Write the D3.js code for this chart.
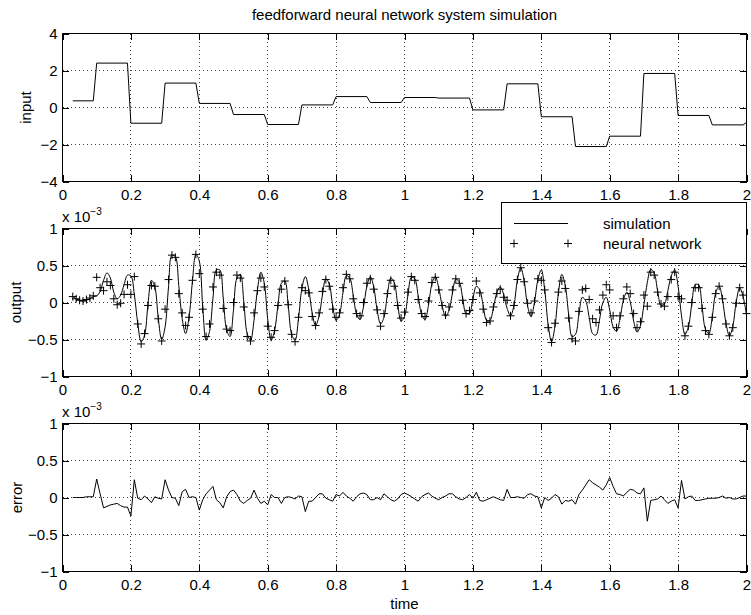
<!DOCTYPE html>
<html>
<head>
<meta charset="utf-8">
<title>feedforward neural network system simulation</title>
<script src="https://d3js.org/d3.v7.min.js"></script>
<style>
  body { margin: 0; background: #fff; }
  svg text { font-family: "Liberation Sans", Arial, Helvetica, sans-serif; font-size: 15px; fill: #000; }
  .grid { stroke: #444; stroke-width: 1; stroke-dasharray: 1,3; shape-rendering: crispEdges; }
  .tick line { shape-rendering: crispEdges; }
</style>
</head>
<body>
<div id="chart"></div>
<script>
// sampling of the simulation runs (seconds)
var t0 = 0.03, dt = 0.01;

// output of the simulated system (x 1e-3), one value per sample from 0.03 to 2.00
var simulation = [
  0.08, 0.05, 0.03, 0.02, 0.03, 0.05, 0.08,
  0.09, 0.15, 0.30, 0.40, 0.33, 0.14, 0.05, 0.10, 0.24, 0.37,
  0.36, 0.11, -0.28, -0.53, -0.44, -0.02, 0.30, 0.21, -0.21, -0.50,
  -0.33, 0.21, 0.64, 0.62, 0.23, -0.22, -0.42, -0.20, 0.29, 0.65,
  0.56, -0.06, -0.51, -0.39, 0.06, 0.44, 0.44, 0.06, -0.37, -0.46,
  -0.10, 0.33, 0.38, 0.02, -0.42, -0.51, -0.24, 0.17, 0.41, 0.26,
  -0.22, -0.51, -0.38, -0.04, 0.26, 0.29, -0.04, -0.43, -0.51, -0.22,
  0.19, 0.35, 0.18, -0.14, -0.31, -0.19, 0.10, 0.32, 0.25, -0.04,
  -0.24, -0.16, 0.13, 0.36, 0.33, 0.10, -0.16, -0.23, -0.06, 0.22,
  0.35, 0.21, -0.10, -0.29, -0.20, 0.11, 0.33, 0.27, -0.02, -0.25,
  -0.19, 0.10, 0.34, 0.32, 0.09, -0.16, -0.23, -0.04, 0.25, 0.35,
  0.20, -0.04, -0.19, -0.11, 0.12, 0.31, 0.28, 0.06, -0.15, -0.15,
  0.05, 0.22, 0.17, -0.04, -0.24, -0.24, -0.07, 0.13, 0.21, 0.11,
  -0.08, -0.18, -0.04, 0.30, 0.47, 0.29, -0.05, -0.19, 0.00, 0.31,
  0.44, 0.17, -0.30, -0.53, -0.32, 0.13, 0.38, 0.23, -0.16, -0.46,
  -0.43, -0.16, 0.07, 0.02, -0.20, -0.42, -0.44, -0.24, 0.00, 0.07,
  -0.10, -0.33, -0.39, -0.22, 0.03, 0.14, 0.01, -0.25, -0.40, -0.31,
  -0.03, 0.27, 0.45, 0.40, 0.16, -0.04, -0.02, 0.16, 0.36, 0.44,
  0.22, -0.18, -0.43, -0.33, -0.02, 0.24, 0.24, -0.05, -0.36, -0.42,
  -0.19, 0.13, 0.22, 0.03, -0.28, -0.45, -0.32, 0.01, 0.20, 0.08,
  -0.17
];

// output of the neural network model (x 1e-3)
var network = [
  0.08, 0.05, 0.03, 0.02, 0.04, 0.06, 0.09,
  0.34, 0.20, 0.16, 0.28, 0.23, 0.05, -0.03, -0.01, 0.11, 0.24,
  0.11, 0.35, -0.29, -0.56, -0.42, -0.04, 0.23, 0.22, -0.22, -0.52,
  -0.09, 0.31, 0.64, 0.61, 0.12, -0.14, -0.31, -0.20, 0.30, 0.65,
  0.39, -0.09, -0.46, -0.29, 0.21, 0.41, 0.37, -0.08, -0.36, -0.38,
  0.00, 0.37, 0.33, -0.06, -0.46, -0.52, -0.14, 0.16, 0.33, 0.21,
  -0.32, -0.47, -0.38, -0.04, 0.18, 0.29, -0.03, -0.43, -0.53, -0.20,
  0.20, 0.16, 0.13, -0.19, -0.31, -0.14, 0.15, 0.31, 0.22, -0.09,
  -0.20, -0.14, 0.20, 0.38, 0.32, 0.05, -0.15, -0.18, 0.00, 0.26,
  0.32, 0.18, -0.10, -0.32, -0.15, 0.12, 0.30, 0.22, -0.04, -0.21,
  -0.13, 0.14, 0.35, 0.30, 0.04, -0.15, -0.19, 0.02, 0.27, 0.34,
  0.17, -0.04, -0.17, -0.06, 0.17, 0.32, 0.26, 0.03, -0.15, -0.11,
  0.04, 0.29, 0.13, -0.09, -0.27, -0.25, -0.06, 0.12, 0.18, 0.07,
  0.03, -0.18, -0.04, 0.31, 0.47, 0.28, -0.01, -0.14, 0.02, 0.32,
  0.30, 0.17, -0.34, -0.54, -0.28, 0.14, 0.29, 0.19, -0.21, -0.49,
  -0.52, -0.12, 0.17, 0.19, 0.04, -0.22, -0.27, -0.10, 0.10, 0.24,
  0.17, -0.18, -0.34, -0.18, 0.05, 0.21, 0.12, -0.15, -0.34, -0.26,
  0.10, -0.05, 0.41, 0.37, 0.14, -0.02, -0.05, 0.08, 0.31, 0.41,
  0.08, 0.05, -0.45, -0.32, 0.00, 0.20, 0.20, -0.08, -0.38, -0.43,
  -0.20, 0.12, 0.22, 0.05, -0.29, -0.45, -0.34, -0.01, 0.20, 0.10,
  -0.15
];

// network minus simulation (x 1e-3)
var errorValues = [
  0.00, 0.00, 0.00, 0.00, 0.01, 0.01, 0.01,
  0.25, 0.05, -0.14, -0.12, -0.10, -0.09, -0.08, -0.11, -0.13, -0.13,
  -0.25, 0.24, -0.01, -0.03, 0.02, -0.02, -0.07, 0.01, -0.01, -0.02,
  0.24, 0.10, 0.00, -0.01, -0.11, 0.08, 0.11, 0.00, 0.01, 0.00,
  -0.17, -0.03, 0.05, 0.10, 0.15, -0.03, -0.07, -0.14, 0.01, 0.08,
  0.10, 0.04, -0.05, -0.08, -0.04, -0.01, 0.10, -0.01, -0.08, -0.05,
  -0.10, 0.04, 0.00, 0.00, -0.08, 0.00, 0.01, 0.00, -0.02, 0.02,
  0.01, -0.19, -0.05, -0.05, 0.00, 0.05, 0.05, -0.01, -0.03, -0.05,
  0.04, 0.02, 0.07, 0.02, -0.01, -0.05, 0.01, 0.05, 0.06, 0.04,
  -0.03, -0.03, 0.00, -0.03, 0.05, 0.01, -0.03, -0.05, -0.02, 0.04,
  0.06, 0.04, 0.01, -0.02, -0.05, 0.01, 0.04, 0.06, 0.02, -0.01,
  -0.03, 0.00, 0.02, 0.05, 0.05, 0.01, -0.02, -0.03, 0.00, 0.04,
  -0.01, 0.07, -0.04, -0.05, -0.03, -0.01, 0.01, -0.01, -0.03, -0.04,
  0.11, 0.00, 0.00, 0.01, 0.00, -0.01, 0.04, 0.05, 0.02, 0.01,
  -0.14, 0.00, -0.04, -0.01, 0.04, 0.01, -0.09, -0.04, -0.05, -0.03,
  -0.09, 0.04, 0.10, 0.17, 0.24, 0.20, 0.17, 0.14, 0.10, 0.17,
  0.27, 0.15, 0.05, 0.04, 0.02, 0.07, 0.11, 0.10, 0.06, 0.05,
  0.13, -0.32, -0.04, -0.03, -0.02, 0.02, -0.03, -0.08, -0.05, -0.03,
  -0.14, 0.23, -0.02, 0.01, 0.02, -0.04, -0.04, -0.03, -0.02, -0.01,
  -0.01, -0.01, 0.00, 0.02, -0.01, 0.00, -0.02, -0.02, 0.00, 0.02,
  0.02
];

// piecewise constant input: start time and level of each step
var inputStart = [0.03, 0.1, 0.2, 0.3, 0.4, 0.5, 0.6, 0.7, 0.8, 0.9, 1.0, 1.1, 1.2, 1.3, 1.4, 1.5, 1.6, 1.7, 1.8, 1.9];
var inputLevel = [0.36, 2.40, -0.85, 1.32, 0.22, -0.38, -0.92, 0.14, 0.59, 0.27, 0.54, 0.51, -0.13, 1.28, -0.50, -2.11, -1.55, 1.84, -0.43, -0.94];
var inputLast = [2.0, -0.81];

var timeTicks = [0, 0.2, 0.4, 0.6, 0.8, 1, 1.2, 1.4, 1.6, 1.8, 2];
var inputTicks = [-4, -2, 0, 2, 4];
var outputTicks = [-1, -0.5, 0, 0.5, 1];

var W = 751, H = 615;
var panelTop = [33.5, 228.5, 423.5], panelH = 148;

var svg = d3.select("#chart").append("svg")
  .attr("width", W).attr("height", H);

var x = d3.scaleLinear().domain([0, 2]).range([62.5, 746.5]);

var fmt = function(d) { return String(d).replace("-", "\u2212"); };

function panel(top, domain, ticks, name, nameX) {
  var y = d3.scaleLinear().domain(domain).range([top + panelH, top]);
  var g = svg.append("g");

  // dotted grid
  g.append("g").selectAll("line").data(timeTicks.slice(1, -1)).join("line")
    .attr("class", "grid")
    .attr("x1", d => x(d)).attr("x2", d => x(d))
    .attr("y1", top).attr("y2", top + panelH);
  g.append("g").selectAll("line").data(ticks.slice(1, -1)).join("line")
    .attr("class", "grid")
    .attr("x1", x.range()[0]).attr("x2", x.range()[1])
    .attr("y1", d => y(d)).attr("y2", d => y(d));

  // ticks on all four sides, pointing inwards
  g.append("g").attr("transform", "translate(0," + (top + panelH) + ")")
    .call(d3.axisBottom(x).tickValues(timeTicks).tickFormat(fmt).tickSizeInner(-6.5).tickSizeOuter(0).tickPadding(7.5));
  g.append("g").attr("transform", "translate(0," + top + ")")
    .call(d3.axisTop(x).tickValues(timeTicks).tickFormat("").tickSizeInner(-6.5).tickSizeOuter(0));
  g.append("g").attr("transform", "translate(" + x.range()[0] + ",0)")
    .call(d3.axisLeft(y).tickValues(ticks).tickFormat(fmt).tickSizeInner(-6.5).tickSizeOuter(0).tickPadding(5));
  g.append("g").attr("transform", "translate(" + x.range()[1] + ",0)")
    .call(d3.axisRight(y).tickValues(ticks).tickFormat("").tickSizeInner(-6.5).tickSizeOuter(0));
  g.selectAll(".domain").remove();

  g.append("rect")
    .attr("x", x.range()[0]).attr("y", top)
    .attr("width", x.range()[1] - x.range()[0]).attr("height", panelH)
    .attr("fill", "none").attr("stroke", "#000").attr("shape-rendering", "crispEdges");

  g.append("text")
    .attr("transform", "translate(" + nameX + "," + (top + panelH / 2) + ") rotate(-90)")
    .attr("text-anchor", "middle")
    .text(name);

  return y;
}

var line = function(y) {
  return d3.line().x(d => x(d[0])).y(d => y(d[1]));
};
var sampleTime = function(i) { return t0 + i * dt; };

// ---- input ----
var yIn = panel(panelTop[0], [-4, 4], inputTicks, "input", 31);
var inputPts = [];
inputStart.forEach(function(s, i) {
  var end = i < inputStart.length - 1 ? inputStart[i + 1] - dt : 1.99;
  inputPts.push([s, inputLevel[i]], [end, inputLevel[i]]);
});
inputPts.push(inputLast);
svg.append("path").datum(inputPts)
  .attr("d", line(yIn))
  .attr("fill", "none").attr("stroke", "#000").attr("stroke-width", 1);

// ---- output ----
var yOut = panel(panelTop[1], [-1, 1], outputTicks, "output", 21);
svg.append("path").datum(simulation.map((v, i) => [sampleTime(i), v]))
  .attr("d", line(yOut).curve(d3.curveCatmullRom.alpha(0.5)))
  .attr("fill", "none").attr("stroke", "#000").attr("stroke-width", 1);

var plus = "M-4,0H4M0,-4V4";
svg.append("g").selectAll("path").data(network).join("path")
  .attr("transform", (v, i) => "translate(" + x(sampleTime(i)) + "," + yOut(v) + ")")
  .attr("d", plus)
  .attr("stroke", "#000").attr("stroke-width", 1).attr("fill", "none");

// ---- error ----
var yErr = panel(panelTop[2], [-1, 1], outputTicks, "error", 22);
svg.append("path").datum(errorValues.map((v, i) => [sampleTime(i), v]))
  .attr("d", line(yErr))
  .attr("fill", "none").attr("stroke", "#000").attr("stroke-width", 1);

// exponent labels
[panelTop[1], panelTop[2]].forEach(function(top) {
  var t = svg.append("text").attr("x", 62).attr("y", top - 6.5).text("x 10");
  t.append("tspan").attr("dy", -7).style("font-size", "10px").text("\u22123");
});

// title and x label
svg.append("text").attr("x", 404.5).attr("y", 20).attr("text-anchor", "middle")
  .text("feedforward neural network system simulation");
svg.append("text").attr("x", 404.5).attr("y", 609).attr("text-anchor", "middle")
  .text("time");

// legend
var lg = svg.append("g");
lg.append("rect").attr("x", 501.5).attr("y", 202.5).attr("width", 245).attr("height", 61)
  .attr("fill", "#fff").attr("stroke", "#000").attr("shape-rendering", "crispEdges");
lg.append("line").attr("x1", 514).attr("x2", 568).attr("y1", 223.5).attr("y2", 223.5)
  .attr("stroke", "#000");
lg.append("text").attr("x", 603).attr("y", 229).text("simulation");
[514, 568].forEach(function(px) {
  lg.append("path").attr("transform", "translate(" + px + ",243.5)").attr("d", plus)
    .attr("stroke", "#000").attr("fill", "none");
});
lg.append("text").attr("x", 603).attr("y", 249).text("neural network");
</script>
</body>
</html>
